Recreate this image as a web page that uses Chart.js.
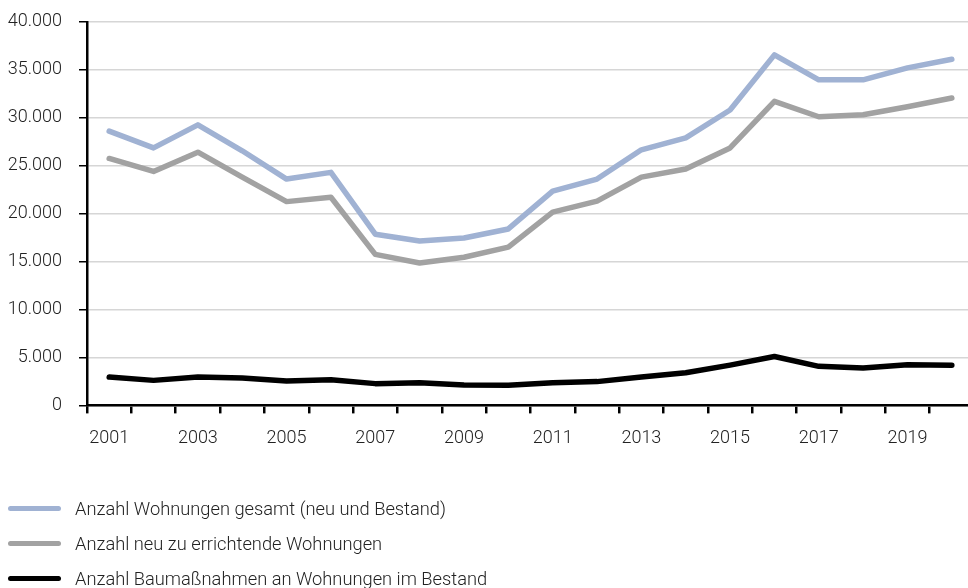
<!DOCTYPE html>
<html><head><meta charset="utf-8">
<script src="https://cdn.jsdelivr.net/npm/chart.js@4"></script>
<style>
html,body{margin:0;padding:0;background:#fff;overflow:hidden;width:968px;height:588px}
#wrap{position:absolute;left:0;top:-6px;width:985px;height:594px}
#legend{position:absolute;left:0;top:0;width:968px;height:588px;pointer-events:none;font-family:Roboto,'Liberation Sans',sans-serif;font-weight:300;font-size:18.3px;color:#222}
.item{position:absolute;left:8px;height:20px;display:flex;align-items:center}
.sw{width:53px;height:5px;border-radius:3px;margin-right:14px}
</style></head>
<body>
<div id="wrap"><canvas id="c" width="985" height="594"></canvas></div>
<div id="legend"></div>
<script>
const years = ['2001','2002','2003','2004','2005','2006','2007','2008','2009','2010','2011','2012','2013','2014','2015','2016','2017','2018','2019','2020'];
const gesamt = [28600,26850,29250,26550,23600,24300,17850,17150,17450,18400,22350,23600,26650,27900,30800,36550,33950,33950,35200,36100];
const neu = [25750,24400,26400,23800,21250,21700,15750,14850,15450,16500,20150,21300,23800,24650,26850,31700,30100,30300,31150,32050];
const bestand = [2950,2610,2950,2850,2540,2680,2270,2370,2120,2090,2370,2480,2950,3400,4200,5100,4070,3900,4250,4180];
const seriesNames = ['Anzahl Wohnungen gesamt (neu und Bestand)','Anzahl neu zu errichtende Wohnungen','Anzahl Baumaßnahmen an Wohnungen im Bestand'];
const seriesColors = ['#a0b2d3','#a2a2a2','#000000'];
const yTicks = [0,5000,10000,15000,20000,25000,30000,35000,40000];

const FONT = {family:"Roboto, 'Liberation Sans', sans-serif", size:18, weight:'300'};
const ds = [gesamt, neu, bestand].map((d,i)=>({
  label: seriesNames[i], data: d, borderColor: seriesColors[i], backgroundColor: seriesColors[i],
  borderWidth: 5.5, pointRadius: 0, tension: 0, borderCapStyle:'round', borderJoinStyle:'round', fill:false
}));
new Chart(document.getElementById('c'), {
  type:'line',
  data:{labels:years, datasets:ds},
  options:{
    responsive:false, animation:false,
    layout:{padding:{left:0,right:11,top:17,bottom:125}},
    plugins:{legend:{display:false}, tooltip:{enabled:false}},
    scales:{
      x:{
        offset:true,
        grid:{offset:true, drawOnChartArea:false, drawTicks:true, tickLength:8, tickColor:'#000', lineWidth:2.5},
        border:{display:true, color:'#000', width:2.5},
        ticks:{autoSkip:false, maxRotation:0, color:'#222', font:FONT, padding:14,
          callback:function(v,i){ return i%2===0 ? years[i] : ''; }}
      },
      y:{
        min:0, max:40000,
        afterBuildTicks:function(s){ s.ticks = yTicks.map(v=>({value:v})); },
        afterFit:function(s){ s.width = 87; },
        grid:{color:'#d6d6d6', lineWidth:1.5, tickLength:8, tickColor:'#000'},
        border:{display:true, color:'#000', width:2.5},
        ticks:{color:'#222', font:FONT, padding:17,
          callback:function(v){ return v===0 ? '0' : v.toLocaleString('de-DE'); }}
      }
    }
  }
});
const lg = document.getElementById('legend');
const tops = [498,533,568];
seriesNames.forEach((n,i)=>{
  const d = document.createElement('div'); d.className='item'; d.style.top = tops[i]+'px';
  d.innerHTML = '<span class="sw" style="background:'+seriesColors[i]+'"></span><span>'+n+'</span>';
  lg.appendChild(d);
});
</script>
</body></html>
